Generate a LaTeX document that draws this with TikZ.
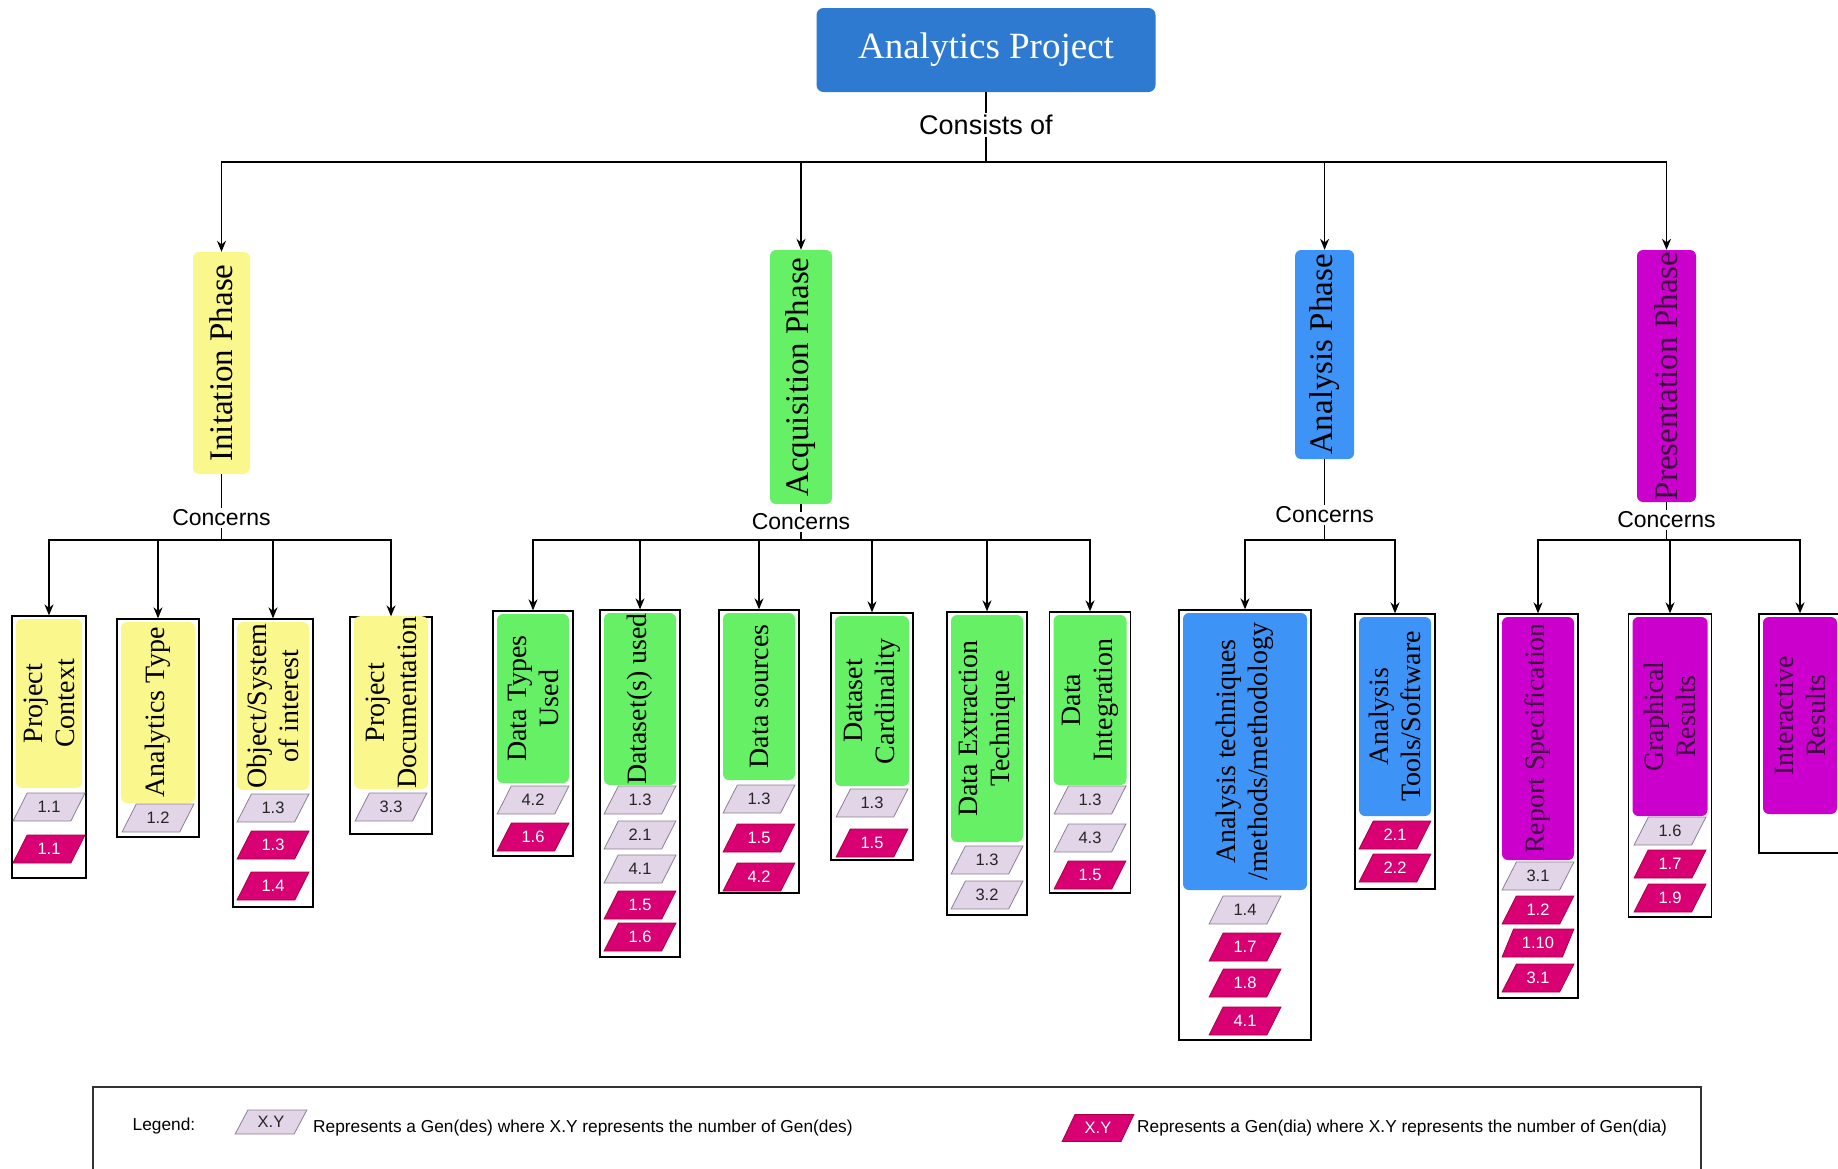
\documentclass[tikz,border=0pt]{standalone}
\usepackage{fontspec}
\setmainfont{Liberation Serif}
\setsansfont{Liberation Sans}
\usetikzlibrary{arrows.meta,shapes.geometric}

\definecolor{projblue}{HTML}{2E7AD1}
\definecolor{phyellow}{HTML}{FAF88C}
\definecolor{phgreen}{HTML}{66F066}
\definecolor{phblue}{HTML}{3D94F6}
\definecolor{phpurple}{HTML}{CC00CC}
\definecolor{presink}{HTML}{3A0A40}
\definecolor{desfill}{HTML}{E1D5E7}
\definecolor{desline}{HTML}{8C7E92}
\definecolor{diafill}{HTML}{D80073}
\definecolor{dialine}{HTML}{A50040}

\tikzset{
  arr/.style={-{Stealth[length=11pt,width=9pt]},line width=1.4pt},
  link/.style={line width=1.4pt},
  topbox/.style={fill=projblue,rounded corners=7pt,text=white,minimum width=339,minimum height=84,font=\fontsize{37}{40}\selectfont},
  relabel/.style={inner sep=2pt,font=\sffamily\fontsize{27}{30}\selectfont},
  crel/.style={inner sep=2pt,font=\sffamily\fontsize{23}{26}\selectfont},
  phasebox/.style={rotate=90,rounded corners=6pt,inner sep=0pt,font=\fontsize{33}{36}\selectfont},
  leafbox/.style={draw,line width=1.3pt,inner sep=0pt},
  leaflabel/.style={rotate=90,rounded corners=6pt,inner sep=0pt,align=center,font=\fontsize{28}{32}\selectfont},
  ylw/.style={fill=phyellow},
  grn/.style={fill=phgreen},
  blu/.style={fill=phblue},
  pur/.style={fill=phpurple,text=presink},
  gdes/.style={trapezium,trapezium left angle=57,trapezium right angle=123,trapezium stretches=true,
    minimum width=72,minimum height=28,inner sep=0pt,fill=desfill,draw=desline,line width=0.8pt,
    text=black!85,font=\sffamily\fontsize{16.5}{18}\selectfont},
  gdia/.style={gdes,fill=diafill,draw=dialine,text=white},
  legendbox/.style={draw=black!80,line width=1.5pt,inner sep=0pt},
  legtext/.style={inner sep=1pt,font=\sffamily\fontsize{17.3}{20}\selectfont},
}

\begin{document}
\begin{tikzpicture}[x=1pt,y=-1pt]
\useasboundingbox (0,0) rectangle (1838,1168);

% project
\node[topbox] (proj) at (986,50) {Analytics Project};
\node[relabel] (cons) at (986,125) {Consists of};
\coordinate (bus) at (986,162);

% phases
\node[phasebox,ylw,minimum width=222,minimum height=57] (init) at (221.5,363) {Initation Phase};
\node[phasebox,grn,minimum width=254,minimum height=62] (acq) at (801,377) {Acquisition Phase};
\node[phasebox,blu,minimum width=209,minimum height=59] (ana) at (1324.6,354.5) {Analysis Phase};
\node[phasebox,pur,minimum width=252,minimum height=59] (pres) at (1666.5,376) {Presentation Phase};

% leaves: name/x/width/top/bottom/label height/style/text
\foreach \n/\x/\w/\ya/\yb/\lh/\sty/\txt in {
  pctx/49/74/616/878/169/ylw/{Project\\Context},
  atype/158/82/619/837/181/ylw/{Analytics Type},
  objsys/273/80/619/907/168/ylw/{Object/System\\of interest},
  pdoc/391/82/617/834/165/ylw/{Project\\Documentation},
  dtypes/533/80/611/856/169/grn/{Data Types\\Used},
  dsets/640/80/610/957/172/grn/{Dataset(s) used},
  dsrc/759/80/610/893/167/grn/{Data sources},
  dcard/872/82/613/860/170/grn/{Dataset\\Cardinality},
  dext/987/80/612/915/227/grn/{Data Extraction\\Technique},
  dint/1090/81/612/893/170/grn/{Data\\Integration},
  atech/1245/132/610/1040/277/blu/{Analysis techniques\\/methods/methodology},
  atool/1395/80/614/889/199/blu/{Analysis\\Tools/Software},
  rspec/1538/80/614/998/243/pur/{Report Specification},
  gres/1670/83/614/917/199/pur/{Graphical\\Results},
  ires/1800/82/614/853/197/pur/{Interactive\\Results}}
{
  \node[leafbox,minimum width=\w,minimum height=\yb-\ya] (\n) at (\x,{(\ya+\yb)/2}) {};
  \node[leaflabel,\sty,minimum width=\lh,minimum height=\w-8] (\n-l) at (\x,{\ya+3+\lh/2}) {\txt};
}

% gen chips
\foreach \x/\y/\k/\val in {
  49/807/gdes/1.1, 49/849/gdia/1.1,
  158/818/gdes/1.2,
  273/808/gdes/1.3, 273/845/gdia/1.3, 273/886/gdia/1.4,
  391/807/gdes/3.3,
  533/800/gdes/4.2, 533/837/gdia/1.6,
  640/800/gdes/1.3, 640/835/gdes/2.1, 640/869/gdes/4.1, 640/905/gdia/1.5, 640/937/gdia/1.6,
  759/799/gdes/1.3, 759/838/gdia/1.5, 759/877/gdia/4.2,
  872/803/gdes/1.3, 872/843/gdia/1.5,
  987/860/gdes/1.3, 987/895/gdes/3.2,
  1090/800/gdes/1.3, 1090/838/gdes/4.3, 1090/875/gdia/1.5,
  1245/910/gdes/1.4, 1245/947/gdia/1.7, 1245/983/gdia/1.8, 1245/1021/gdia/4.1,
  1395/835/gdia/2.1, 1395/868/gdia/2.2,
  1538/876/gdes/3.1, 1538/910/gdia/1.2, 1538/943/gdia/1.10, 1538/978/gdia/3.1,
  1670/831/gdes/1.6, 1670/864/gdia/1.7, 1670/898/gdia/1.9}
  \node[\k] (g-\x-\y) at (\x,\y) {\val};

% consists of
\draw[link] (proj) -- (cons);
\foreach \p in {init,acq,ana,pres}
  \draw[arr] (cons) -- (bus) -| (\p);

% concerns
\node[crel] (cI) at (221.5,518) {Concerns};
\coordinate (bI) at (221.5,540);
\draw[link] (init) -- (cI);
\foreach \k in {pctx,atype,objsys,pdoc}
  \draw[arr] (cI) -- (bI) -| (\k);

\node[crel] (cA) at (801,522) {Concerns};
\coordinate (bA) at (801,540);
\draw[link] (acq) -- (cA);
\foreach \k in {dtypes,dsets,dsrc,dcard,dext,dint}
  \draw[arr] (cA) -- (bA) -| (\k);

\node[crel] (cN) at (1324.6,515) {Concerns};
\coordinate (bN) at (1324.6,540);
\draw[link] (ana) -- (cN);
\foreach \k in {atech,atool}
  \draw[arr] (cN) -- (bN) -| (\k);

\node[crel] (cP) at (1666.5,520) {Concerns};
\coordinate (bP) at (1666.5,540);
\draw[link] (pres) -- (cP);
\foreach \k in {rspec,gres,ires}
  \draw[arr] (cP) -- (bP) -| (\k);

% legend
\node[legendbox,anchor=north west,minimum width=1608,minimum height=110] (legend) at (92,1086) {};
\node[legtext] (legl) at (164,1126) {Legend:};
\node[gdes,minimum height=24] (lgdes) at (271,1122) {X.Y};
\node[legtext,anchor=west] (legd) at (312,1128) {Represents a Gen(des) where X.Y represents the number of Gen(des)};
\node[gdia,minimum height=27] (lgdia) at (1098,1128) {X.Y};
\node[legtext,anchor=west] (legg) at (1136,1128) {Represents a Gen(dia) where X.Y represents the number of Gen(dia)};
\end{tikzpicture}
\end{document}
